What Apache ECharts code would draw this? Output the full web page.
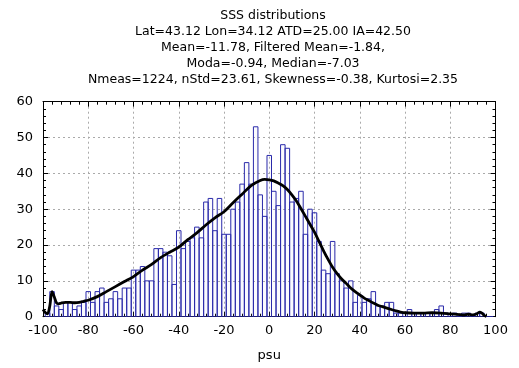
<!DOCTYPE html>
<html>
<head>
<meta charset="utf-8">
<script src="https://cdn.jsdelivr.net/npm/echarts@6/dist/echarts.min.js"></script>
<style>html,body{margin:0;padding:0;background:#fff}#c{width:519px;height:368px}</style>
</head>
<body>
<div id="c"></div>
<script>
const titleLines = [
  'SSS distributions',
  'Lat=43.12 Lon=34.12 ATD=25.00 IA=42.50',
  'Mean=-11.78, Filtered Mean=-1.84,',
  'Moda=-0.94, Median=-7.03',
  'Nmeas=1224, nStd=23.61, Skewness=-0.38, Kurtosi=2.35'
];
const xTicks = [-100, -80, -60, -40, -20, 0, 20, 40, 60, 80, 100];
const yTicks = [0, 10, 20, 30, 40, 50, 60];
const binWidth = 2;
const binCenters = [
  -98,-96,-94,-92,-90,-88,-86,-84,-82,-80,
  -78,-76,-74,-72,-70,-68,-66,-64,-62,-60,
  -58,-56,-54,-52,-50,-48,-46,-44,-42,-40,
  -38,-36,-34,-32,-30,-28,-26,-24,-22,-20,
  -18,-16,-14,-12,-10,-8,-6,-4,-2,0,
  2,4,6,8,10,12,14,16,18,20,
  22,24,26,28,30,32,34,36,38,40,
  42,44,46,48,50,52,54,56,58,60,
  62,64,66,68,70,72,74,76,78,80,
  82,84,86,88,90,92,94,96,98
];
const binCounts = [
  1,7,3,2,4,4,2,3,4,7,
  4,7,8,4,5,7,5,8,8,13,
  13,14,10,10,19,19,18,17,9,24,
  19,21,22,25,22,32,33,24,33,23,
  23,30,32,37,43,37,53,34,28,45,
  35,31,48,47,32,33,35,23,30,29,
  21,13,12,21,12,10,8,10,4,6,
  4,5,7,3,3,4,4,1,1,0,
  2,1,1,1,1,1,2,3,1,0,
  1,0,1,1,0,1,1,0,0
];
const curveX = [-100,-99,-98,-97,-96,-95,-94,-93,-92,-90,-88,-86,-84,-82,-80,-76,-72,-68,-64,-60,-56,-52,-48,-44,-40,-36,-32,-28,-24,-20,-16,-12,-8,-4,-2,0,2,4,6,8,10,12,14,16,18,20,22,24,26,28,30,32,34,36,38,40,42,44,46,48,50,52,54,56,58,60,64,68,72,76,80,84,86,88,90,92,93,94,95,96];
const curveY = [2,1.2,0.8,3,7,5.5,3.8,3.6,3.8,4.0,4.0,3.9,4.0,4.3,4.6,5.6,7.0,8.4,9.8,11.2,13.0,14.6,16.5,18.0,19.4,21.5,23.4,25.6,27.6,29.3,31.8,34.2,36.6,38.0,38.3,38.2,37.9,37.3,36.6,35.5,34.0,32.3,30.2,28.0,25.8,23.6,21.0,18.4,16.0,13.8,12.0,10.5,9.3,8.0,7.0,6.1,5.2,4.5,3.8,3.2,2.8,2.4,2.0,1.6,1.3,1.1,1.0,1.0,1.1,1.0,0.8,0.6,0.5,0.7,0.5,0.9,1.3,1.0,0.4,0.1];

const FONT = 'DejaVu Sans';
const chart = echarts.init(document.getElementById('c'), null, {renderer: 'canvas'});
const barData = binCenters.map((c, i) => [c, binCounts[i]]);
const lineData = curveX.map((x, i) => [x, curveY[i]]);
const gridLine = {show: true, lineStyle: {color: '#aaaaaa', type: [2, 3], width: 1}};
const axBase = {
  type: 'value', axisLine: {show: true, onZero: false, lineStyle: {color: '#000', width: 1}},
  axisTick: {show: true, inside: true, length: 5, lineStyle: {color: '#000'}},
  minorTick: {show: true, splitNumber: 5, length: 3, lineStyle: {color: '#000'}}
};
chart.setOption({
  animation: false,
  title: {
    text: titleLines.join('\n'), left: 268, top: 3, textAlign: 'center',
    textStyle: {fontFamily: FONT, fontSize: 12.5, fontWeight: 'normal', color: '#000', lineHeight: 16}
  },
  grid: {left: 43, right: 23.5, top: 101.7, bottom: 51.3},
  xAxis: [
    Object.assign({}, axBase, {
      min: xTicks[0], max: xTicks[xTicks.length - 1], interval: 20, position: 'bottom',
      name: 'psu', nameLocation: 'middle', nameGap: 32,
      nameTextStyle: {fontFamily: FONT, fontSize: 13, color: '#000'},
      axisLabel: {fontFamily: FONT, fontSize: 13, color: '#000', margin: 7},
      splitLine: gridLine
    }),
    Object.assign({}, axBase, {
      min: xTicks[0], max: xTicks[xTicks.length - 1], interval: 20, position: 'top',
      axisLabel: {show: false}, splitLine: {show: false}
    })
  ],
  yAxis: [
    Object.assign({}, axBase, {
      min: yTicks[0], max: yTicks[yTicks.length - 1], interval: 10, position: 'left',
      axisLabel: {fontFamily: FONT, fontSize: 13, color: '#000', margin: 10},
      splitLine: gridLine
    }),
    Object.assign({}, axBase, {
      min: yTicks[0], max: yTicks[yTicks.length - 1], interval: 10, position: 'right',
      axisLabel: {show: false}, splitLine: {show: false}
    })
  ],
  series: [
    {
      type: 'custom', xAxisIndex: 0, yAxisIndex: 0, clip: true,
      data: barData,
      renderItem: function (params, api) {
        const c = api.value(0), v = api.value(1);
        const p0 = api.coord([c - binWidth / 2, v]);
        const p1 = api.coord([c + binWidth / 2, 0]);
        const rect = echarts.graphic.clipRectByRect(
          {x: p0[0], y: p0[1], width: p1[0] - p0[0], height: p1[1] - p0[1]},
          {x: params.coordSys.x, y: params.coordSys.y, width: params.coordSys.width, height: params.coordSys.height}
        );
        if (!rect) return null;
        return {type: 'rect', shape: rect, style: {fill: 'rgba(200,200,240,0.08)', stroke: '#2a2aaa', lineWidth: 1}};
      }
    },
    {
      type: 'line', xAxisIndex: 0, yAxisIndex: 0, data: lineData, smooth: 0.3,
      showSymbol: false, symbol: 'none', lineStyle: {color: '#000', width: 2.8}, z: 5
    }
  ]
});
</script>
</body>
</html>
